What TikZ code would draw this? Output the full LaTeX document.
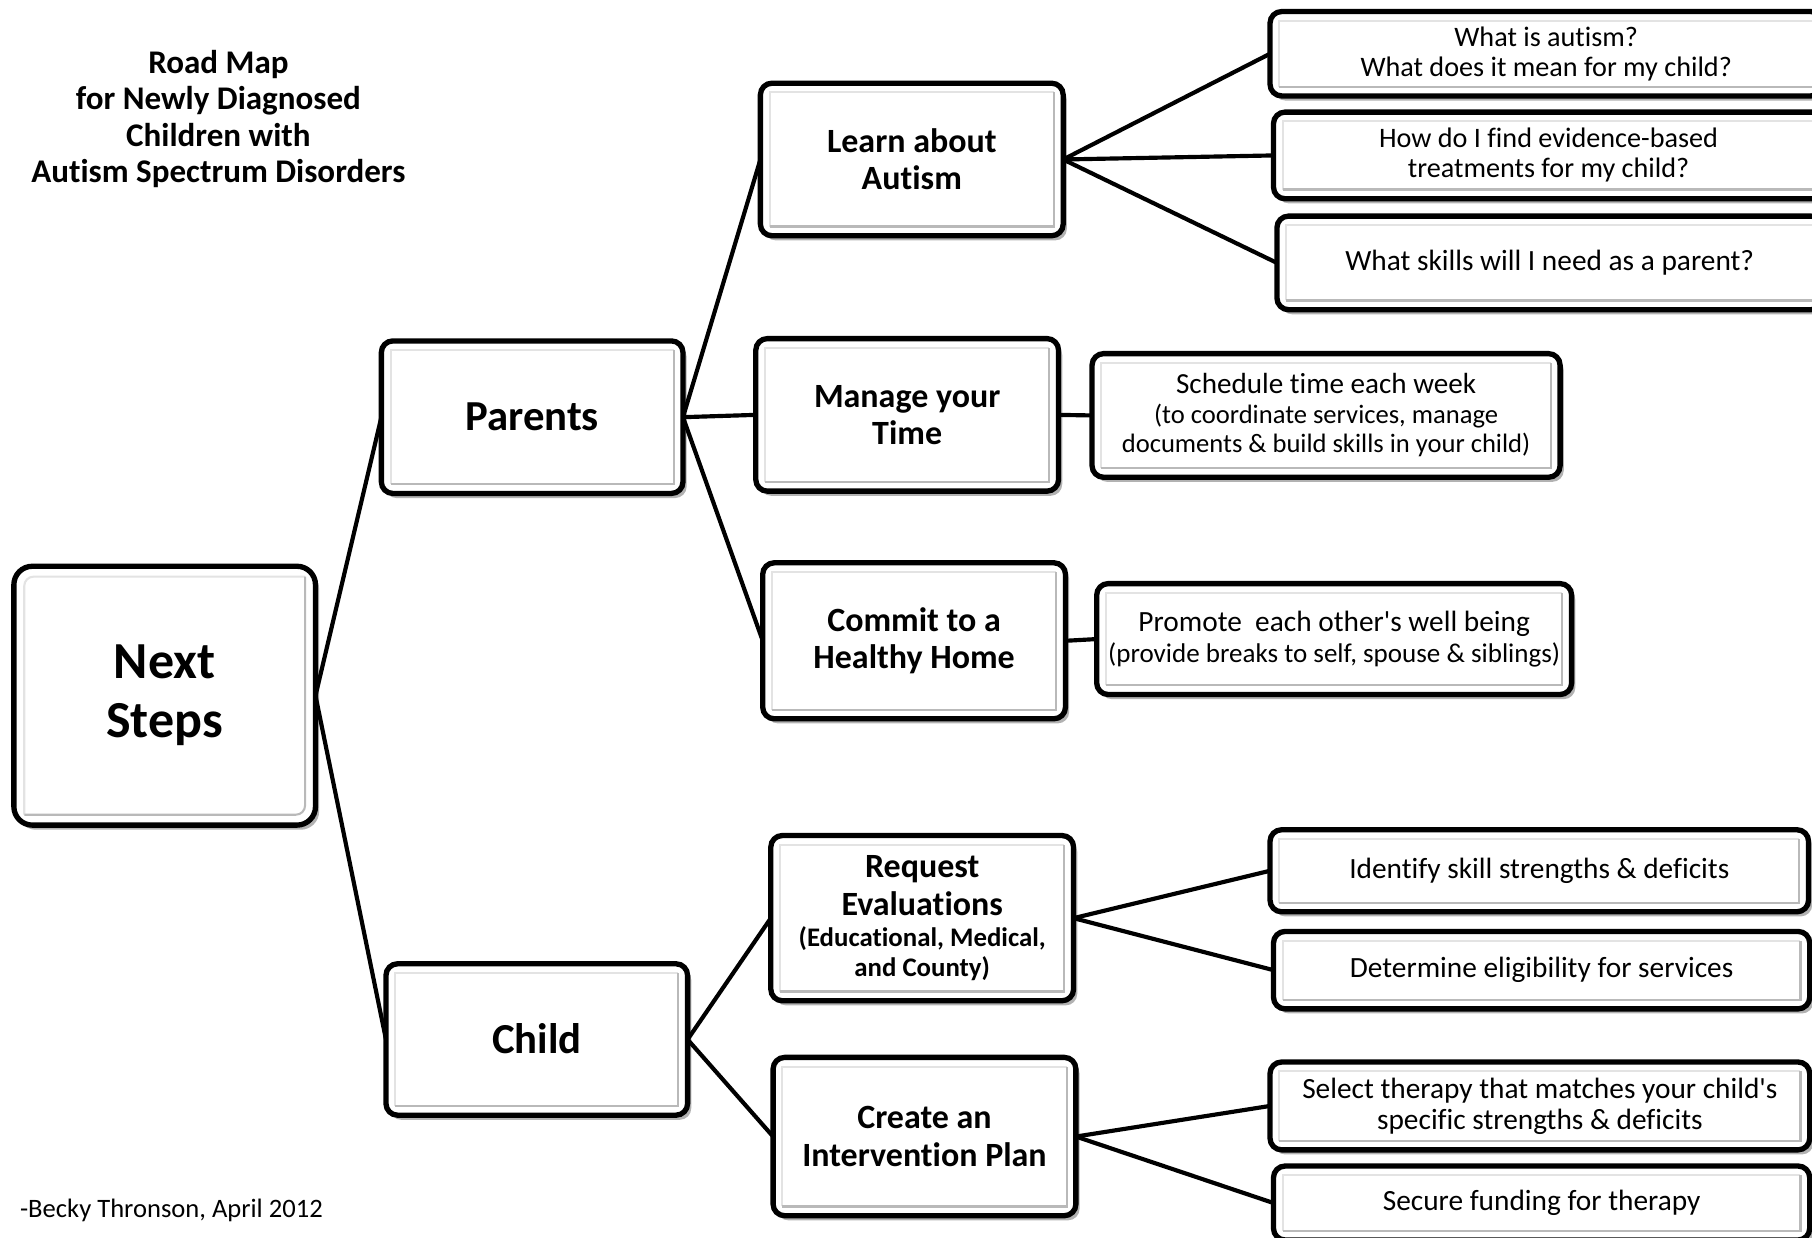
\documentclass[tikz,border=0pt]{standalone}
\usepackage{fontspec}
\setmainfont{Carlito}[Ligatures={ResetAll,NoCommon}]
\usetikzlibrary{shadows}
\newcommand{\mybevel}[2][4pt]{%
  \draw[bevlight] ([xshift=#1,yshift=#1]#2.south west) |- ([xshift=-#1,yshift=-#1]#2.north east);
  \draw[bevdark] ([xshift=#1,yshift=#1]#2.south west) -| ([xshift=-#1,yshift=-#1]#2.north east);
}
\tikzset{
  bx/.style={draw=black, line width=2.3pt, rounded corners=5pt, fill=white, align=center,
    inner sep=0pt, outer sep=0pt, text=black,
    drop shadow={shadow xshift=1.6pt, shadow yshift=-2pt, fill=black, opacity=0.3}},
  bevlight/.style={draw=gray!22, line width=0.9pt},
  bevdark/.style={draw=gray!55, line width=0.9pt},
  link/.style={line width=1.8pt, draw=black},
  ttl/.style={font=\bfseries\fontsize{14.3}{15.75}\selectfont, align=center, inner sep=0pt},
  fbig/.style={font=\bfseries\fontsize{22.5}{25.5}\selectfont},
  fmid/.style={font=\bfseries\fontsize{18.5}{20}\selectfont},
  fhead/.style={font=\bfseries\fontsize{14.7}{16.2}\selectfont},
  fbody/.style={font=\fontsize{12.2}{13}\selectfont},
  fbodyl/.style={font=\fontsize{12.7}{13.5}\selectfont},
}
\begin{document}
\begin{tikzpicture}[x=0.5pt, y=-0.5pt]
\useasboundingbox (0,0) rectangle (1568,1071);
\clip (0,0) rectangle (1568,1071);
\fill[white] (0,0) rectangle (1568,1071);

% title and credit
\node[ttl] (title) at (189,103) {Road Map\\for Newly Diagnosed\\Children with\\Autism Spectrum Disorders};
\node[anchor=west, inner sep=0pt, font=\fontsize{11.5}{13}\selectfont] (credit) at (17,1047) {-Becky Thronson, April 2012};

% level 0
\node[bx, fbig, rounded corners=8pt, minimum width=261*0.5pt, minimum height=224*0.5pt] (next) at (142.5,602) {Next\\Steps};
\draw[bevlight, rounded corners=4pt] ([xshift=4.5pt,yshift=4.5pt]next.south west) |- ([xshift=-4.5pt,yshift=-4.5pt]next.north east);
\draw[bevdark, rounded corners=4pt] ([xshift=4.5pt,yshift=4.5pt]next.south west) -| ([xshift=-4.5pt,yshift=-4.5pt]next.north east);

% level 1
\node[bx, fmid, minimum width=261*0.5pt, minimum height=132*0.5pt] (parents) at (460.5,361) {Parents};
\mybevel{parents}
\node[bx, fmid, minimum width=261*0.5pt, minimum height=131*0.5pt] (child) at (464.5,899.5) {\raisebox{1pt}{Child}};
\mybevel{child}

% level 2
\node[bx, fhead, minimum width=262*0.5pt, minimum height=132*0.5pt] (learn) at (789,138) {Learn about\\Autism};
\mybevel{learn}
\node[bx, fhead, minimum width=262*0.5pt, minimum height=132*0.5pt] (manage) at (785,359) {Manage your\\Time};
\mybevel{manage}
\node[bx, fhead, minimum width=262*0.5pt, minimum height=135*0.5pt] (commit) at (791,554.5) {Commit to a\\Healthy Home};
\mybevel{commit}
\node[bx, fhead, minimum width=262*0.5pt, minimum height=143*0.5pt] (request) at (798,794.5) {Request\\Evaluations\\[-2.5pt]{\fontsize{11.6}{13}\selectfont (Educational, Medical,}\\[-3.5pt]{\fontsize{11.6}{13}\selectfont and County)}};
\mybevel{request}
\node[bx, fhead, minimum width=262*0.5pt, minimum height=137*0.5pt] (create) at (800,983.5) {Create an\\Intervention Plan};
\mybevel{create}

% level 3
\node[bx, fbody, minimum width=478*0.5pt, minimum height=73*0.5pt] (q1) at (1338,46.5) {What is autism?\\What does it mean for my child?};
\mybevel{q1}
\node[bx, fbody, minimum width=476*0.5pt, minimum height=75*0.5pt] (q2) at (1340,134.5) {How do I find evidence-based\\treatments for my child?};
\mybevel{q2}
\node[bx, fbodyl, minimum width=472*0.5pt, minimum height=81*0.5pt] (q3) at (1341,227.5) {What skills will I need as a parent?};
\mybevel{q3}
\node[bx, font=\fontsize{11.5}{12.5}\selectfont, minimum width=405*0.5pt, minimum height=107*0.5pt] (sched) at (1147.5,359.5) {{\fontsize{12.6}{14}\selectfont Schedule time each week}\\[0.5pt](to coordinate services, manage\\documents \& build skills in your child)};
\mybevel{sched}
\node[bx, fbodyl, minimum width=411*0.5pt, minimum height=96*0.5pt] (promote) at (1154.5,553) {Promote\ \ each other\textquotesingle s well being\\{\fontsize{11.7}{13}\selectfont (provide breaks to self, spouse \& siblings)}};
\mybevel{promote}
\node[bx, fbodyl, minimum width=466*0.5pt, minimum height=71*0.5pt] (ident) at (1332,753.5) {Identify skill strengths \& deficits};
\mybevel{ident}
\node[bx, fbodyl, minimum width=464*0.5pt, minimum height=67*0.5pt] (determ) at (1334,839.5) {Determine eligibility for services};
\mybevel{determ}
\node[bx, fbodyl, minimum width=467*0.5pt, minimum height=76*0.5pt] (select) at (1332.5,957) {Select therapy that matches your child\textquotesingle s\\specific strengths \& deficits};
\mybevel{select}
\node[bx, fbodyl, minimum width=464*0.5pt, minimum height=64*0.5pt] (secure) at (1334,1041) {Secure funding for therapy};
\mybevel{secure}

% connectors
\draw[link] (next.east) -- (parents.west);
\draw[link] (next.east) -- (child.west);
\draw[link] (parents.east) -- (learn.west);
\draw[link] (parents.east) -- (manage.west);
\draw[link] (parents.east) -- (commit.west);
\draw[link] (child.east) -- (request.west);
\draw[link] (child.east) -- (create.west);
\draw[link] (learn.east) -- (q1.west);
\draw[link] (learn.east) -- (q2.west);
\draw[link] (learn.east) -- (q3.west);
\draw[link] (manage.east) -- (sched.west);
\draw[link] (commit.east) -- (promote.west);
\draw[link] (request.east) -- (ident.west);
\draw[link] (request.east) -- (determ.west);
\draw[link] (create.east) -- (select.west);
\draw[link] (create.east) -- (secure.west);
\end{tikzpicture}
\end{document}
